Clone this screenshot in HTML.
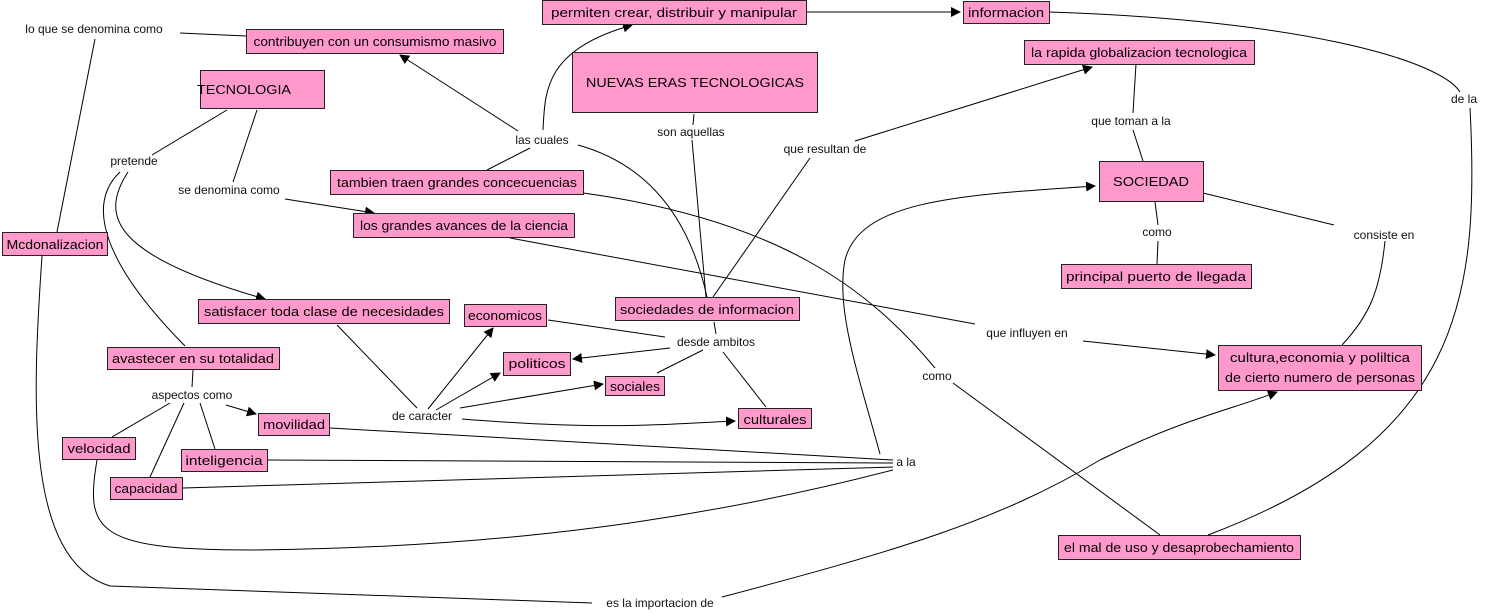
<!DOCTYPE html>
<html><head><meta charset="utf-8"><style>
html,body{margin:0;padding:0;background:#fff;}
svg{display:block;font-family:"Liberation Sans","DejaVu Sans",sans-serif;}
.b{fill:#ff99cc;stroke:#222;stroke-width:1;}
.t{font-size:13px;fill:#000;}
.l{font-size:12px;fill:#111;}
path,line{stroke:#000;stroke-width:1;fill:none;}
</style></head><body>
<svg width="1487" height="613" viewBox="0 0 1487 613" xmlns="http://www.w3.org/2000/svg">
<defs><marker id="a" markerWidth="10" markerHeight="10" refX="9" refY="5" orient="auto" markerUnits="userSpaceOnUse"><path d="M0,0 L10,5 L0,10 z" style="fill:#000;stroke:none"/></marker></defs>

<!-- connectors -->
<line x1="180" y1="33" x2="246" y2="36"/>
<line x1="95" y1="39" x2="57" y2="232"/>
<path d="M42,256 C32,400 25,560 110,586 L592,603"/>
<path d="M722,597 C900,550 1000,520 1100,460 C1180,420 1230,410 1277,392" marker-end="url(#a)"/>
<line x1="227" y1="110" x2="152" y2="155"/>
<line x1="257" y1="110" x2="233" y2="182"/>
<line x1="285" y1="199" x2="374" y2="213" marker-end="url(#a)"/>
<path d="M128,172 C100,215 110,255 265,299" marker-end="url(#a)"/>
<path d="M120,172 C85,205 105,265 185,346"/>
<line x1="487" y1="170" x2="530" y2="148"/>
<line x1="518" y1="131" x2="400" y2="55" marker-end="url(#a)"/>
<path d="M543,130 C545,90 545,50 632,25" marker-end="url(#a)"/>
<path d="M578,145 C650,165 690,220 707,297"/>
<line x1="694" y1="114" x2="693" y2="125"/>
<line x1="692" y1="140" x2="706" y2="297"/>
<line x1="713" y1="297" x2="810" y2="158"/>
<line x1="855" y1="141" x2="1092" y2="67" marker-end="url(#a)"/>
<line x1="806" y1="12" x2="960" y2="12" marker-end="url(#a)"/>
<path d="M1049,12 C1300,20 1440,60 1460,92"/>
<path d="M1470,108 C1480,300 1460,440 1208,535"/>
<line x1="1136" y1="64" x2="1133" y2="113"/>
<line x1="1133" y1="130" x2="1143" y2="161"/>
<line x1="1155" y1="202" x2="1158" y2="225"/>
<line x1="1158" y1="241" x2="1157" y2="264"/>
<line x1="1203" y1="193" x2="1334" y2="225"/>
<path d="M1385,241 C1380,290 1370,315 1342,345"/>
<path d="M583,193 C780,220 870,290 935,368"/>
<line x1="953" y1="383" x2="1160" y2="535"/>
<line x1="510" y1="238" x2="975" y2="324"/>
<line x1="1083" y1="341" x2="1215" y2="355" marker-end="url(#a)"/>
<line x1="714" y1="322" x2="716" y2="334"/>
<line x1="665" y1="337" x2="548" y2="320"/>
<line x1="670" y1="348" x2="573" y2="359" marker-end="url(#a)"/>
<line x1="703" y1="350" x2="657" y2="373"/>
<line x1="723" y1="352" x2="766" y2="407"/>
<line x1="337" y1="325" x2="417" y2="408"/>
<line x1="428" y1="409" x2="493" y2="328" marker-end="url(#a)"/>
<line x1="436" y1="410" x2="500" y2="373" marker-end="url(#a)"/>
<line x1="460" y1="408" x2="603" y2="384" marker-end="url(#a)"/>
<path d="M462,419 C600,430 650,425 735,421" marker-end="url(#a)"/>
<line x1="193" y1="370" x2="192" y2="387"/>
<line x1="226" y1="405" x2="256" y2="414" marker-end="url(#a)"/>
<line x1="170" y1="403" x2="112" y2="437"/>
<line x1="184" y1="403" x2="150" y2="477"/>
<line x1="200" y1="403" x2="215" y2="449"/>
<line x1="330" y1="428" x2="893" y2="460"/>
<line x1="267" y1="460" x2="893" y2="463"/>
<line x1="183" y1="488" x2="893" y2="467"/>
<path d="M880,454 C860,380 835,310 845,260 C860,200 960,195 1095,186" marker-end="url(#a)"/>
<path d="M97,460 C85,530 95,550 250,550 C500,548 700,520 893,470"/>

<!-- boxes -->
<rect class="b" x="542.5" y="0.5" width="264" height="24"/><text class="t" x="674" y="17" text-anchor="middle" textLength="246" lengthAdjust="spacingAndGlyphs">permiten crear, distribuir y manipular</text>
<rect class="b" x="963.5" y="1.5" width="86" height="22"/><text class="t" x="1006" y="17" text-anchor="middle" textLength="76" lengthAdjust="spacingAndGlyphs">informacion</text>
<rect class="b" x="246.5" y="29.5" width="257" height="24"/><text class="t" x="375" y="46" text-anchor="middle" textLength="243" lengthAdjust="spacingAndGlyphs">contribuyen con un consumismo masivo</text>
<rect class="b" x="1024.5" y="40.5" width="230" height="24"/><text class="t" x="1139" y="57" text-anchor="middle" textLength="216" lengthAdjust="spacingAndGlyphs">la rapida globalizacion tecnologica</text>
<rect class="b" x="572.5" y="52.5" width="245" height="60"/><text class="t" x="695" y="87" text-anchor="middle" textLength="218" lengthAdjust="spacingAndGlyphs">NUEVAS ERAS TECNOLOGICAS</text>
<rect class="b" x="200.5" y="70.5" width="124" height="38"/><text class="t" x="244" y="94" text-anchor="middle" textLength="94" lengthAdjust="spacingAndGlyphs">TECNOLOGIA</text>
<rect class="b" x="1099.5" y="161.5" width="104" height="40"/><text class="t" x="1151" y="186" text-anchor="middle" textLength="76" lengthAdjust="spacingAndGlyphs">SOCIEDAD</text>
<rect class="b" x="330.5" y="170.5" width="253" height="24"/><text class="t" x="457" y="187" text-anchor="middle" textLength="240" lengthAdjust="spacingAndGlyphs">tambien traen grandes concecuencias</text>
<rect class="b" x="353.5" y="213.5" width="221" height="24"/><text class="t" x="464" y="230" text-anchor="middle" textLength="208" lengthAdjust="spacingAndGlyphs">los grandes avances de la ciencia</text>
<rect class="b" x="2.5" y="232.5" width="105" height="23"/><text class="t" x="55" y="249" text-anchor="middle" textLength="97" lengthAdjust="spacingAndGlyphs">Mcdonalizacion</text>
<rect class="b" x="1061.5" y="264.5" width="190" height="24"/><text class="t" x="1156" y="281" text-anchor="middle" textLength="180" lengthAdjust="spacingAndGlyphs">principal   puerto de llegada</text>
<rect class="b" x="198.5" y="299.5" width="251" height="24"/><text class="t" x="324" y="316" text-anchor="middle" textLength="240" lengthAdjust="spacingAndGlyphs">satisfacer toda clase de necesidades</text>
<rect class="b" x="464.5" y="304.5" width="82" height="22"/><text class="t" x="505" y="320" text-anchor="middle" textLength="74" lengthAdjust="spacingAndGlyphs">economicos</text>
<rect class="b" x="615.5" y="297.5" width="184" height="23"/><text class="t" x="707" y="314" text-anchor="middle" textLength="174" lengthAdjust="spacingAndGlyphs">sociedades de informacion</text>
<rect class="b" x="107.5" y="347.5" width="172" height="22"/><text class="t" x="193" y="363" text-anchor="middle" textLength="162" lengthAdjust="spacingAndGlyphs">avastecer en su totalidad</text>
<rect class="b" x="503.5" y="352.5" width="67" height="23"/><text class="t" x="537" y="368" text-anchor="middle" textLength="57" lengthAdjust="spacingAndGlyphs">politicos</text>
<rect class="b" x="1218.5" y="345.5" width="203" height="45"/><text class="t" x="1320" y="362" text-anchor="middle" textLength="180" lengthAdjust="spacingAndGlyphs">cultura,economia y poliltica</text><text class="t" x="1320" y="382" text-anchor="middle" textLength="190" lengthAdjust="spacingAndGlyphs">de cierto numero de personas</text>
<rect class="b" x="605.5" y="376.5" width="59" height="19"/><text class="t" x="635" y="391" text-anchor="middle" textLength="50" lengthAdjust="spacingAndGlyphs">sociales</text>
<rect class="b" x="258.5" y="413.5" width="71" height="22"/><text class="t" x="294" y="429" text-anchor="middle" textLength="62" lengthAdjust="spacingAndGlyphs">movilidad</text>
<rect class="b" x="738.5" y="408.5" width="73" height="20"/><text class="t" x="775" y="424" text-anchor="middle" textLength="63" lengthAdjust="spacingAndGlyphs">culturales</text>
<rect class="b" x="62.5" y="437.5" width="73" height="22"/><text class="t" x="99" y="453" text-anchor="middle" textLength="63" lengthAdjust="spacingAndGlyphs">velocidad</text>
<rect class="b" x="181.5" y="449.5" width="86" height="22"/><text class="t" x="224" y="465" text-anchor="middle" textLength="77" lengthAdjust="spacingAndGlyphs">inteligencia</text>
<rect class="b" x="110.5" y="477.5" width="72" height="22"/><text class="t" x="146" y="493" text-anchor="middle" textLength="63" lengthAdjust="spacingAndGlyphs">capacidad</text>
<rect class="b" x="1058.5" y="535.5" width="242" height="24"/><text class="t" x="1179" y="552" text-anchor="middle" textLength="230" lengthAdjust="spacingAndGlyphs">el mal de uso y desaprobechamiento</text>

<!-- linking phrases -->
<g class="l" text-anchor="middle">
<rect x="17" y="21" width="156" height="16" fill="#fff"/>
<text x="94" y="33">lo que se denomina como</text>
<text x="542" y="144">las cuales</text>
<text x="691" y="136">son aquellas</text>
<text x="825" y="153">que resultan de</text>
<text x="1131" y="125">que toman a la</text>
<text x="1464" y="103">de la</text>
<text x="134" y="165">pretende</text>
<text x="229" y="194">se denomina como</text>
<text x="1157" y="236">como</text>
<text x="1384" y="239">consiste en</text>
<text x="716" y="346">desde ambitos</text>
<text x="1027" y="337">que influyen en</text>
<text x="192" y="399">aspectos como</text>
<text x="937" y="380">como</text>
<text x="422" y="420">de caracter</text>
<text x="906" y="466">a la</text>
<text x="660" y="607">es la importacion de</text>
</g>
</svg>
</body></html>
